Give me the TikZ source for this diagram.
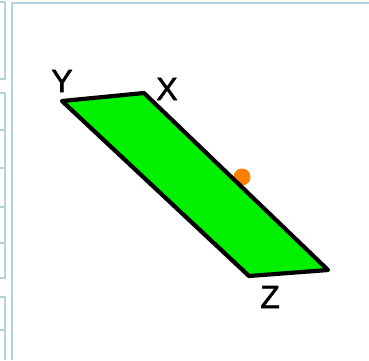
\documentclass[tikz,border=0pt]{standalone}
\usepackage{fontspec}
\setmainfont{Liberation Sans}
\newfontfamily\lblfont[FakeBold=1.6]{Liberation Sans}
\begin{document}
\begin{tikzpicture}[x=1pt,y=-1pt,
  frameline/.style={draw=framecol,line width=2pt},
  lbl/.style={font=\lblfont\fontsize{32}{32}\selectfont,inner sep=0pt,text=black},
  plate/.style={draw=black,fill=platecol,line width=4.2pt,line join=round}]
\definecolor{framecol}{RGB}{176,212,226}
\definecolor{platecol}{RGB}{0,240,0}
\definecolor{dotcol}{RGB}{255,128,0}
\useasboundingbox (0,0) rectangle (369,360);
% side strip
\draw[frameline] (0,2) -- (5,2) -- (5,79) -- (0,79);
\draw[frameline] (0,93) -- (5,93) -- (5,278) -- (0,278);
\draw[frameline] (0,130) -- (5,130);
\draw[frameline] (0,168) -- (5,168);
\draw[frameline] (0,207) -- (5,207);
\draw[frameline] (0,243) -- (5,243);
\draw[frameline] (0,297) -- (5,297) -- (5,360);
\draw[frameline] (0,330) -- (5,330);
% main frame
\draw[frameline] (12,360) -- (12,3) -- (369,3);
% corners
\coordinate (Yc) at (62,101);
\coordinate (Xc) at (144,93);
\coordinate (Rc) at (328,270);
\coordinate (Zc) at (249,276);
% orange dot (under the plate)
\fill[dotcol] (242,177) circle (8.5);
\draw[plate] (Yc) -- (Xc) -- (Rc) -- (Zc) -- cycle;
\node[lbl] (Y) at (62,81) {Y};
\node[lbl] (X) at (167,89) {X};
\node[lbl] (Z) at (270,297) {Z};
\end{tikzpicture}
\end{document}
